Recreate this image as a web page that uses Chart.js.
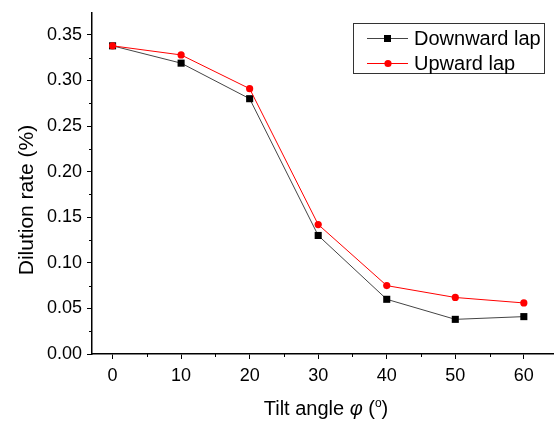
<!DOCTYPE html>
<html>
<head>
<meta charset="utf-8">
<script src="https://cdn.jsdelivr.net/npm/chart.js@4.4.1/dist/chart.umd.min.js"></script>
<style>
    html, body { margin: 0; padding: 0; background: #fff; }
    #wrap { width: 554px; height: 427px; position: relative; }
</style>
</head>
<body>
<div id="wrap"><canvas id="chart"></canvas></div>
<script>
// data
const tiltAngles = [0, 10, 20, 30, 40, 50, 60];
const downwardLap = [0.338, 0.319, 0.280, 0.130, 0.060, 0.038, 0.041];
const upwardLap = [0.338, 0.328, 0.291, 0.142, 0.075, 0.062, 0.056];
const xTicks = [0, 10, 20, 30, 40, 50, 60];
const yTicks = [0, 0.05, 0.10, 0.15, 0.20, 0.25, 0.30, 0.35];
const xMinor = [5, 15, 25, 35, 45, 55];
const yMinor = [0.025, 0.075, 0.125, 0.175, 0.225, 0.275, 0.325];

const FONT = 'Arial, "Liberation Sans", sans-serif';

const toPoints = (xs, ys) => xs.map((x, i) => ({ x: x, y: ys[i] }));

// minor ticks, axis titles and boxed legend
const extras = {
    id: 'extras',
    afterDraw(chart) {
        const ctx = chart.ctx;
        const xs = chart.scales.x, ys = chart.scales.y;
        const area = chart.chartArea;
        ctx.save();
        ctx.strokeStyle = '#000';
        ctx.lineWidth = 1;
        ctx.beginPath();
        xMinor.forEach(v => {
            const px = Math.round(xs.getPixelForValue(v)) + 0.5;
            ctx.moveTo(px, area.bottom);
            ctx.lineTo(px, area.bottom + 3);
        });
        yMinor.forEach(v => {
            const py = Math.round(ys.getPixelForValue(v)) + 0.5;
            ctx.moveTo(area.left, py);
            ctx.lineTo(area.left - 3, py);
        });
        ctx.stroke();

        // y title
        ctx.fillStyle = '#000';
        ctx.font = '21px ' + FONT;
        ctx.textAlign = 'center';
        ctx.textBaseline = 'middle';
        ctx.save();
        ctx.translate(27, 200);
        ctx.rotate(-Math.PI / 2);
        ctx.fillText('Dilution rate (%)', 0, 0);
        ctx.restore();

        // x title with italic phi
        const parts = [
            { t: 'Tilt angle ', f: '20px ' + FONT },
            { t: 'φ', f: 'italic 20px ' + FONT },
            { t: ' (', f: '20px ' + FONT },
            { t: 'o', f: '12px ' + FONT, sup: true },
            { t: ')', f: '20px ' + FONT }
        ];
        let total = 0;
        parts.forEach(p => { ctx.font = p.f; p.w = ctx.measureText(p.t).width; total += p.w; });
        let cx = 326 - total / 2;
        ctx.textAlign = 'left';
        ctx.textBaseline = 'alphabetic';
        parts.forEach(p => {
            ctx.font = p.f;
            ctx.fillText(p.t, cx, p.sup ? 407 : 415);
            cx += p.w;
        });

        // legend
        const lx = 353, ly = 23, lw = 191, lh = 50;
        ctx.strokeStyle = '#333';
        ctx.lineWidth = 1;
        ctx.strokeRect(lx + 0.5, ly + 0.5, lw, lh);
        const rows = [
            { ds: chart.data.datasets[1], y: 38 },
            { ds: chart.data.datasets[0], y: 63 }
        ];
        rows.forEach(r => {
            ctx.strokeStyle = r.ds.borderColor;
            ctx.lineWidth = 1;
            ctx.beginPath();
            ctx.moveTo(367, r.y + 0.5);
            ctx.lineTo(408, r.y + 0.5);
            ctx.stroke();
            ctx.fillStyle = r.ds.pointBackgroundColor;
            ctx.beginPath();
            if (r.ds.pointStyle === 'rect') {
                ctx.rect(384, r.y - 3, 7, 7);
            } else {
                ctx.arc(388, r.y + 0.5, 3.6, 0, Math.PI * 2);
            }
            ctx.fill();
            ctx.fillStyle = '#000';
            ctx.font = '20px ' + FONT;
            ctx.textBaseline = 'middle';
            ctx.fillText(r.ds.label, 414, r.y + 1);
        });
        ctx.restore();
    }
};

const chart = new Chart(document.getElementById('chart'), {
    type: 'line',
    data: {
        datasets: [
            {
                label: 'Upward lap',
                data: toPoints(tiltAngles, upwardLap),
                borderColor: '#ff0000',
                borderWidth: 1,
                pointStyle: 'circle',
                pointRadius: 3.6,
                pointBorderWidth: 0,
                pointBackgroundColor: '#ff0000',
                tension: 0,
                order: 0
            },
            {
                label: 'Downward lap',
                data: toPoints(tiltAngles, downwardLap),
                borderColor: '#444444',
                borderWidth: 1,
                pointStyle: 'rect',
                pointRadius: 5,
                pointBorderWidth: 0,
                pointBackgroundColor: '#000000',
                tension: 0,
                order: 1
            }
        ]
    },
    options: {
        responsive: true,
        maintainAspectRatio: false,
        animation: false,
        layout: { autoPadding: false, padding: { top: 13, right: 0, left: 0, bottom: 0 } },
        plugins: {
            legend: { display: false },
            tooltip: { enabled: false }
        },
        scales: {
            x: {
                type: 'linear',
                min: -3,
                max: 64.4,
                afterBuildTicks: s => { s.ticks = xTicks.map(v => ({ value: v })); },
                afterFit: s => { s.height = 73; s.paddingLeft = 0; s.paddingRight = 0; },
                ticks: {
                    color: '#000',
                    font: { family: FONT, size: 18 },
                    padding: 6,
                    maxRotation: 0,
                    callback: v => String(v)
                },
                grid: { drawOnChartArea: false, tickLength: 5, color: '#000', tickWidth: 1 },
                border: { color: '#000', width: 1.5 }
            },
            y: {
                min: 0,
                max: 0.374,
                afterBuildTicks: s => { s.ticks = yTicks.map(v => ({ value: v })); },
                afterFit: s => { s.width = 92; s.paddingTop = 0; s.paddingBottom = 0; },
                ticks: {
                    color: '#000',
                    font: { family: FONT, size: 18 },
                    padding: 5,
                    callback: v => Number(v).toFixed(2)
                },
                grid: { drawOnChartArea: false, tickLength: 5, color: '#000', tickWidth: 1 },
                border: { color: '#000', width: 1.5 }
            }
        }
    },
    plugins: [extras]
});
</script>
</body>
</html>
